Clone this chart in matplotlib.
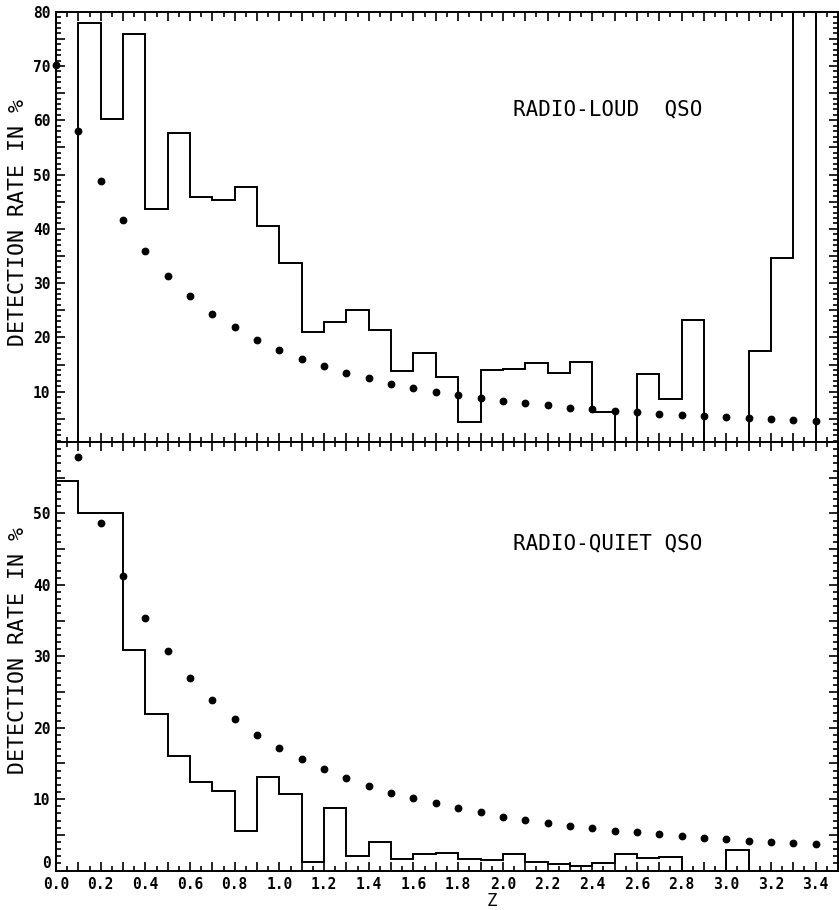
"""
Detection rate vs redshift for radio-loud and radio-quiet QSOs.
Histogram of the observed rate per z bin, dots give the expected rate.
"""

import numpy as np
import matplotlib
matplotlib.use("Agg")
import matplotlib.pyplot as plt
from matplotlib.ticker import MultipleLocator

# redshift bins of width 0.1 from z = 0.0 to 3.4
bin_edges = np.round(np.arange(0.0, 3.45, 0.1), 1)
# redshifts of the expected-rate dots
dot_z = np.round(np.arange(0.0, 3.45, 0.1), 1)

# radio-loud QSO: observed detection rate per bin (%), bin 3.3-3.4 runs off the top
loud_rate = [0.0, 78.0, 60.3, 75.9, 43.6, 57.6, 45.9, 45.4, 47.8, 40.5,
             33.8, 21.0, 22.9, 25.0, 21.4, 13.8, 17.1, 12.7, 4.5, 14.0,
             14.2, 15.3, 13.5, 15.5, 6.3, 0.0, 13.2, 8.7, 23.2, 0.0,
             0.0, 17.6, 34.6, 100.0]
# radio-loud QSO: expected rate (dots)
loud_expected = [70.1, 58.0, 48.8, 41.7, 36.0, 31.3, 27.6, 24.4, 21.9, 19.6,
                 17.7, 16.1, 14.7, 13.5, 12.5, 11.5, 10.7, 10.0, 9.4, 8.8,
                 8.3, 7.9, 7.5, 7.1, 6.8, 6.5, 6.2, 5.9, 5.7, 5.5,
                 5.3, 5.1, 5.0, 4.8, 4.7]

# radio-quiet QSO: observed detection rate per bin (%)
quiet_rate = [54.6, 50.0, 50.0, 30.9, 21.9, 16.1, 12.4, 11.2, 5.6, 13.1,
              10.7, 1.2, 8.8, 2.1, 4.0, 1.6, 2.35, 2.5, 1.6, 1.5,
              2.3, 1.15, 0.9, 0.6, 1.0, 2.3, 1.8, 1.9, 0.0, 0.0,
              2.9, 0.0, 0.0, 0.0]
# radio-quiet QSO: expected rate (dots), first one is off scale
quiet_expected = [70.1, 57.9, 48.6, 41.2, 35.4, 30.8, 27.0, 23.9, 21.2, 19.0,
                  17.2, 15.6, 14.2, 12.9, 11.9, 10.9, 10.1, 9.4, 8.75, 8.15,
                  7.55, 7.1, 6.7, 6.3, 5.95, 5.6, 5.35, 5.1, 4.8, 4.6,
                  4.4, 4.2, 4.0, 3.8, 3.7]

# tick labels
z_tick_labels = ['0.0', '0.2', '0.4', '0.6', '0.8', '1.0', '1.2', '1.4', '1.6',
                 '1.8', '2.0', '2.2', '2.4', '2.6', '2.8', '3.0', '3.2', '3.4']
loud_ytick_labels = ['10', '20', '30', '40', '50', '60', '70', '80']
quiet_ytick_labels = ['0', '10', '20', '30', '40', '50']

W, H = 839, 910
MONO = "DejaVu Sans Mono"
tick_font = dict(family=MONO, weight="bold", size=10.5)


def px_box(left, top, right, bottom):
    """Convert a pixel box (origin top-left) into figure fractions."""
    return [left / W, 1 - bottom / H, (right - left) / W, (bottom - top) / H]


def style_axes(ax, ytick_labels, show_x_labels, ylim):
    # major y ticks every 5, only the tens get a label
    major = np.arange(0, 85, 5)
    labels = [str(v) if str(v) in ytick_labels else '' for v in major]
    ax.set_yticks(major, labels=labels)
    ax.yaxis.set_minor_locator(MultipleLocator(1))

    # major x ticks every 0.1, labels every 0.2
    xmajor = np.round(np.arange(0.0, 3.45, 0.1), 1)
    xlabels = [f"{v:.1f}" if f"{v:.1f}" in z_tick_labels else '' for v in xmajor]
    ax.set_xticks(xmajor, labels=xlabels if show_x_labels else [''] * len(xmajor))
    ax.xaxis.set_minor_locator(MultipleLocator(0.05))

    # limits after the ticks, set_*ticks would widen them otherwise
    ax.set_xlim(0, 3.5)
    ax.set_ylim(*ylim)

    ax.tick_params(which="both", direction="in", top=True, right=True,
                   width=1.2, color="black")
    ax.tick_params(which="major", length=6.5)
    ax.tick_params(axis="y", which="major", pad=4)
    ax.tick_params(axis="x", which="major", pad=5)
    ax.tick_params(which="minor", length=3.5)
    for lbl in ax.get_xticklabels() + ax.get_yticklabels():
        lbl.set_fontproperties(matplotlib.font_manager.FontProperties(**tick_font))
    for sp in ax.spines.values():
        sp.set_linewidth(1.4)


fig = plt.figure(figsize=(W / 100, H / 100), dpi=100)

# upper panel: radio-loud
ax1 = fig.add_axes(px_box(56, 11.7, 838, 442))
ax1.stairs(loud_rate, bin_edges, baseline=0, color="black", linewidth=1.4)
ax1.plot(dot_z, loud_expected, "o", color="black", markersize=4.6, clip_on=False)
style_axes(ax1, loud_ytick_labels, show_x_labels=False, ylim=(0.75, 80))
ax1.text(0.584, 0.772, "RADIO-LOUD  QSO", transform=ax1.transAxes,
         family=MONO, size=15, ha="left", va="center")

# lower panel: radio-quiet
ax2 = fig.add_axes(px_box(56, 442, 838, 870.5))
ax2.stairs(quiet_rate, bin_edges, baseline=0, color="black", linewidth=1.4)
ax2.plot(dot_z, quiet_expected, "o", color="black", markersize=4.6)
style_axes(ax2, quiet_ytick_labels, show_x_labels=True, ylim=(0, 60))
ax2.text(0.584, 0.764, "RADIO-QUIET QSO", transform=ax2.transAxes,
         family=MONO, size=15, ha="left", va="center")
# the zero label sits a bit above the axis, clear of "0.0"
for lbl in ax2.get_yticklabels():
    if lbl.get_text() == '0':
        lbl.set_verticalalignment("bottom")

# axis titles placed in pixel positions
fig.text(18 / W, 1 - 222 / H, "DETECTION RATE IN %", rotation=90,
         family=MONO, size=15.5, ha="center", va="center")
fig.text(18 / W, 1 - 651 / H, "DETECTION RATE IN %", rotation=90,
         family=MONO, size=15.5, ha="center", va="center")
fig.text(492 / W, 1 - 906 / H, "Z", family=MONO, size=12.5,
         ha="center", va="baseline")

fig.savefig("out.png", dpi=100)
